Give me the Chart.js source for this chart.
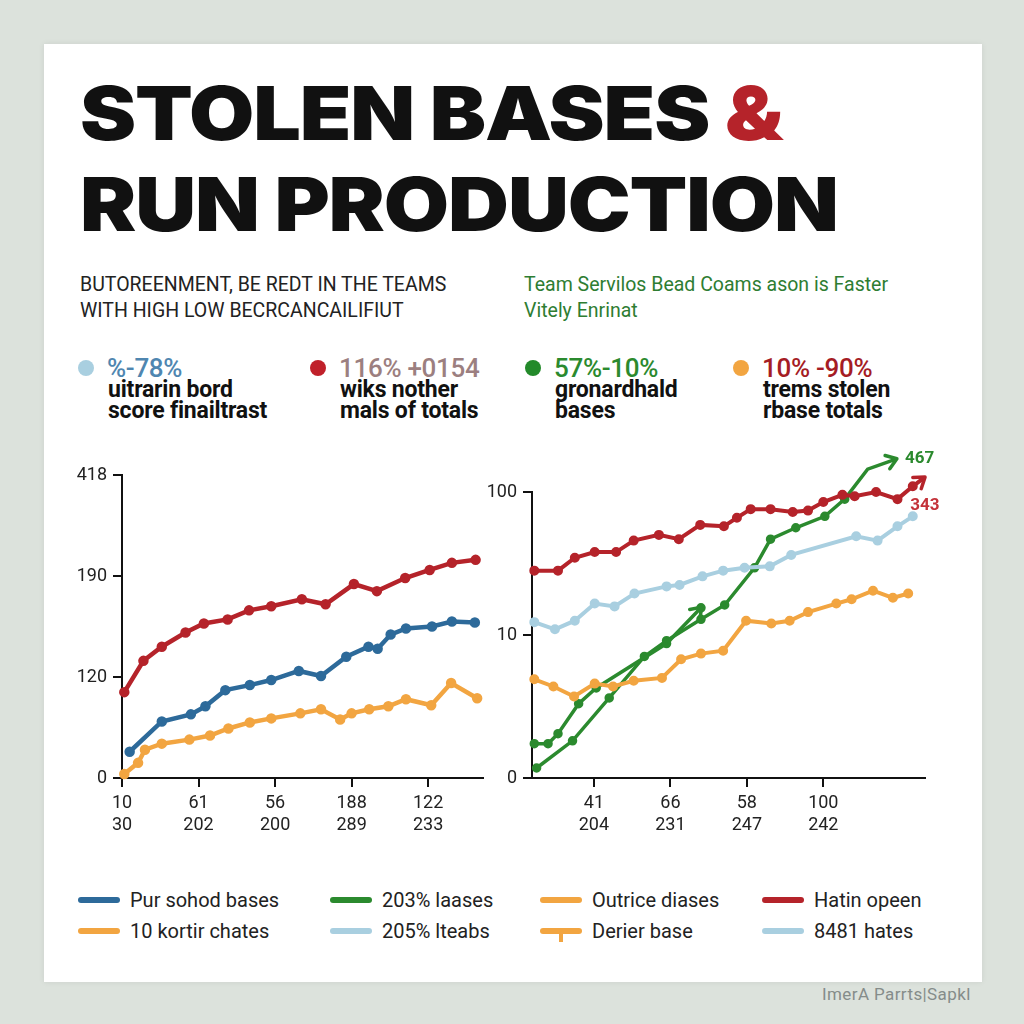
<!DOCTYPE html>
<html>
<head>
<meta charset="utf-8">
<script src="https://cdn.jsdelivr.net/npm/chart.js@4.4.0/dist/chart.umd.min.js"></script>
<style>
  html, body { margin: 0; padding: 0; }
  body { width: 1024px; height: 1024px; background: #dce2dc; position: relative; overflow: hidden; font-family: Roboto, "Noto Sans", sans-serif; }
  .card { position: absolute; left: 44px; top: 44px; width: 938px; height: 938px; background: #fff; box-shadow: 0 0 6px rgba(0,0,0,0.08); }
  .abs { position: absolute; white-space: nowrap; }
  .title { left: 80px; top: 68px; font-family: Inter, sans-serif; font-weight: 900; font-size: 74px; line-height: 91px; color: #111; letter-spacing: -1px; transform: scaleX(1.14); transform-origin: 0 0; }
  .title .amp { color: #b5232a; }
  .sub { font-size: 19.5px; line-height: 26px; top: 272px; }
  .dot { position: absolute; width: 16px; height: 16px; border-radius: 50%; }
  .pct { font-size: 26px; line-height: 26px; top: 355px; font-weight: 500; letter-spacing: -0.3px; }
  .desc { font-size: 23px; line-height: 21px; top: 379px; font-weight: 700; color: #111; letter-spacing: -0.2px; }
  .leg { font-size: 20px; line-height: 24px; color: #222; }
  .sw { position: absolute; width: 42px; height: 6px; border-radius: 3px; }
  canvas { position: absolute; }
</style>
</head>
<body>
<div class="card"></div>
<div class="abs title">STOLEN BASES <span class="amp">&amp;</span><br>RUN PRODUCTION</div>
<div class="abs sub" style="left:80px;color:#222;">BUTOREENMENT, BE REDT IN THE TEAMS<br>WITH HIGH LOW BECRCANCAILIFIUT</div>
<div class="abs sub" style="left:524px;color:#2e7d32;">Team Servilos Bead Coams ason is Faster<br>Vitely Enrinat</div>
<div id="stats"></div>
<div id="legend"></div>
<canvas id="leftChart" width="430" height="410" style="left:60px;top:440px;"></canvas>
<canvas id="rightChart" width="480" height="410" style="left:480px;top:440px;"></canvas>
<div class="abs" style="left:822px;top:984px;font-size:17px;letter-spacing:0.4px;color:#858c8a;">ImerA Parrts|Sapkl</div>

<script>
// Цвета
const RED = '#b5232a', BLUE = '#2d6a9a', ORANGE = '#f2a541', GREEN = '#2b8a2e', LIGHTBLUE = '#a9cfe0';

// Левый график: подписи осей
const leftYTicks = ['0', '120', '190', '418'];
const leftXTicks = [['10', '30'], ['61', '202'], ['56', '200'], ['188', '289'], ['122', '233']];

// Левый график: серии
const leftRedX = [0.03, 0.28, 0.52, 0.83, 1.07, 1.38, 1.66, 1.95, 2.35, 2.66, 3.03, 3.33, 3.70, 4.02, 4.31, 4.62];
const leftRedY = [85, 116, 130, 144, 153, 157, 166, 170, 177, 172, 192, 185, 198, 206, 213, 216];
const leftBlueX = [0.10, 0.52, 0.90, 1.09, 1.35, 1.67, 1.95, 2.31, 2.60, 2.93, 3.22, 3.34, 3.51, 3.71, 4.05, 4.31, 4.61];
const leftBlueY = [26, 56, 63, 71, 87, 92, 97, 106, 101, 120, 130, 128, 142, 148, 150, 155, 154];
const leftOrangeX = [0.03, 0.21, 0.30, 0.52, 0.88, 1.15, 1.39, 1.67, 1.95, 2.33, 2.60, 2.85, 3.00, 3.23, 3.48, 3.71, 4.04, 4.30, 4.64];
const leftOrangeY = [4, 15, 28, 34, 38, 42, 49, 55, 59, 64, 68, 58, 64, 68, 71, 78, 72, 94, 79];

// Правый график: подписи осей
const rightYTicks = ['0', '10', '100'];
const rightXTicks = [['41', '204'], ['66', '231'], ['58', '247'], ['100', '242']];

// Правый график: серии
const rightRedX = [0.22, 0.53, 0.75, 1.01, 1.29, 1.52, 1.85, 2.11, 2.39, 2.70, 2.87, 3.05, 3.31, 3.60, 3.80, 4.00, 4.25, 4.41, 4.69, 4.97, 5.17, 5.32];
const rightRedY = [145, 145, 154, 158, 158, 166, 170, 167, 177, 176, 182, 188, 188, 186, 187, 193, 198, 197, 200, 195, 204, 210];
const rightLightX = [0.22, 0.49, 0.75, 1.01, 1.27, 1.53, 1.95, 2.12, 2.42, 2.69, 2.97, 3.30, 3.58, 4.43, 4.71, 4.97, 5.17];
const rightLightY = [109, 104, 110, 122, 120, 129, 134, 135, 141, 145, 147, 148, 156, 169, 166, 176, 183];
const rightOrangeX = [0.22, 0.47, 0.74, 1.01, 1.25, 1.52, 1.89, 2.14, 2.40, 2.69, 2.99, 3.32, 3.56, 3.80, 4.17, 4.37, 4.65, 4.91, 5.11];
const rightOrangeY = [69, 64, 57, 66, 64, 68, 70, 83, 87, 89, 110, 108, 110, 116, 122, 125, 131, 126, 129];
const rightGreenAX = [0.22, 0.40, 0.53, 0.80, 1.03, 1.95, 2.40];
const rightGreenAY = [24, 24, 31, 52, 63, 94, 119];
const rightGreenBX = [0.25, 0.72, 1.20, 1.66, 1.95, 2.40, 2.71, 3.10, 3.31, 3.64, 4.02, 4.28, 4.58, 4.95];
const rightGreenBY = [7, 26, 56, 85, 96, 111, 121, 147, 167, 175, 183, 195, 216, 223];

// Показатели
const stats = [
    { dot: '#a9cfe0', x: 86, pct: '%-78%', pctColor: '#4f86b0', lines: ['uitrarin bord', 'score finailtrast'] },
    { dot: '#c0202a', x: 318, pct: '116% +0154', pctColor: '#9c7f80', lines: ['wiks nother', 'mals of totals'] },
    { dot: '#238a2a', x: 533, pct: '57%-10%', pctColor: '#2b8a2e', lines: ['gronardhald', 'bases'] },
    { dot: '#f2a541', x: 741, pct: '10% -90%', pctColor: '#a51c24', lines: ['trems stolen', 'rbase totals'] }
];

// Легенда
const legendItems = [
    { label: 'Pur sohod bases', color: BLUE },
    { label: '203% laases', color: GREEN },
    { label: 'Outrice diases', color: ORANGE },
    { label: 'Hatin opeen', color: RED },
    { label: '10 kortir chates', color: ORANGE },
    { label: '205% lteabs', color: LIGHTBLUE },
    { label: 'Derier base', color: ORANGE, tick: true },
    { label: '8481 hates', color: LIGHTBLUE }
];
const legendCols = [78, 330, 540, 762];
const legendRows = [900, 931];

const statsEl = document.getElementById('stats');
stats.forEach(s => {
    statsEl.insertAdjacentHTML('beforeend', `
        <div class="dot" style="left:${s.x - 8}px;top:360px;background:${s.dot}"></div>
        <div class="abs pct" style="left:${s.x + 21}px;color:${s.pctColor}">${s.pct}</div>
        <div class="abs desc" style="left:${s.x + 22}px">${s.lines.join('<br>')}</div>`);
});

const legendEl = document.getElementById('legend');
legendItems.forEach((it, i) => {
    const x = legendCols[i % 4], y = legendRows[Math.floor(i / 4)];
    const tick = it.tick ? `<div style="position:absolute;left:${x + 19}px;top:${y + 2}px;width:4px;height:9px;background:${it.color}"></div>` : '';
    legendEl.insertAdjacentHTML('beforeend', `
        <div class="sw" style="left:${x}px;top:${y - 3}px;background:${it.color}"></div>${tick}
        <div class="abs leg" style="left:${x + 52}px;top:${y - 12}px">${it.label}</div>`);
});

const pts = (xs, ys) => xs.map((x, i) => ({ x, y: ys[i] }));

const line = (data, color, width, extra = {}) => Object.assign({
    data, borderColor: color, backgroundColor: color, borderWidth: width,
    pointRadius: 3, pointHoverRadius: 3, tension: 0, clip: false, fill: false
}, extra);

// Стрелки на концах линий и подписи
const arrowPlugin = {
    id: 'arrows',
    afterDatasetsDraw(chart) {
        const ctx = chart.ctx;
        chart.data.datasets.forEach((ds, i) => {
            if (!ds.arrow) return;
            const p = chart.getDatasetMeta(i).data;
            const a = p[p.length - 2], b = p[p.length - 1];
            const ang = Math.atan2(b.y - a.y, b.x - a.x);
            ctx.save();
            ctx.translate(b.x, b.y);
            ctx.rotate(ang);
            ctx.strokeStyle = ds.borderColor;
            ctx.lineWidth = 3.5;
            ctx.lineCap = 'round';
            ctx.lineJoin = 'round';
            ctx.beginPath();
            ctx.moveTo(-9, -7); ctx.lineTo(1, 0); ctx.lineTo(-9, 7);
            ctx.stroke();
            ctx.restore();
            if (ds.endLabel) {
                ctx.save();
                ctx.font = 'bold 17px Roboto';
                ctx.fillStyle = ds.labelColor || ds.borderColor;
                ctx.textBaseline = 'middle';
                ctx.fillText(ds.endLabel, b.x + ds.labelDx, b.y + ds.labelDy);
                ctx.restore();
            }
        });
    }
};

const axisStyle = (extra) => Object.assign({
    type: 'linear',
    border: { display: true, color: '#111', width: 2 },
    grid: { drawOnChartArea: false, drawTicks: true, tickLength: 9, color: '#111', lineWidth: 2 }
}, extra);

function makeChart(id, datasets, cfg) {
    return new Chart(document.getElementById(id).getContext('2d'), {
        type: 'line',
        data: { datasets },
        plugins: [arrowPlugin],
        options: {
            responsive: false,
            animation: false,
            layout: { padding: cfg.padding },
            plugins: { legend: { display: false }, tooltip: { enabled: false } },
            scales: {
                x: axisStyle({
                    min: cfg.xMin, max: cfg.xMax,
                    afterBuildTicks: s => { s.ticks = cfg.xTickVals.map(v => ({ value: v })); },
                    afterFit: s => { s.height = cfg.xHeight; },
                    ticks: {
                        autoSkip: false, maxRotation: 0, padding: 6,
                        color: '#222', font: { size: 18, family: 'Roboto', lineHeight: 1.2 },
                        callback: v => cfg.xLabels[cfg.xTickVals.indexOf(v)]
                    }
                }),
                y: axisStyle({
                    min: cfg.yMin, max: cfg.yMax,
                    afterBuildTicks: s => { s.ticks = cfg.yTickVals.map(v => ({ value: v })); },
                    afterFit: s => { s.width = cfg.yWidth; },
                    ticks: {
                        padding: 6, color: '#222', font: { size: 18, family: 'Roboto' },
                        callback: v => cfg.yLabels[cfg.yTickVals.indexOf(v)]
                    }
                })
            }
        }
    });
}

makeChart('leftChart', [
    line(pts(leftRedX, leftRedY), RED, 4.5),
    line(pts(leftBlueX, leftBlueY), BLUE, 4.5),
    line(pts(leftOrangeX, leftOrangeY), ORANGE, 4.5)
], {
    padding: { top: 35, right: 7, left: 0, bottom: 0 },
    xMin: 0, xMax: 4.71, xTickVals: [0, 1, 2, 3, 4], xLabels: leftXTicks, xHeight: 72,
    yMin: 0, yMax: 300, yTickVals: [0, 100, 200, 300], yLabels: leftYTicks, yWidth: 62
});

makeChart('rightChart', [
    line(pts(rightOrangeX, rightOrangeY), ORANGE, 4),
    line(pts(rightLightX, rightLightY), LIGHTBLUE, 4),
    line(pts(rightRedX, rightRedY), RED, 4, { arrow: true, endLabel: '343', labelColor: '#c4323a', labelDx: -14, labelDy: 28 }),
    line(pts(rightGreenAX, rightGreenAY), GREEN, 3.5, { arrow: true }),
    line(pts(rightGreenBX, rightGreenBY), GREEN, 3.5, { arrow: true, endLabel: '467', labelDx: 9, labelDy: 0 })
], {
    padding: { top: 52, right: 35, left: 0, bottom: 0 },
    xMin: 0.19, xMax: 5.33, xTickVals: [1, 2, 3, 4], xLabels: rightXTicks, xHeight: 72,
    yMin: 0, yMax: 200, yTickVals: [0, 100, 200], yLabels: rightYTicks, yWidth: 52
});
</script>
</body>
</html>
